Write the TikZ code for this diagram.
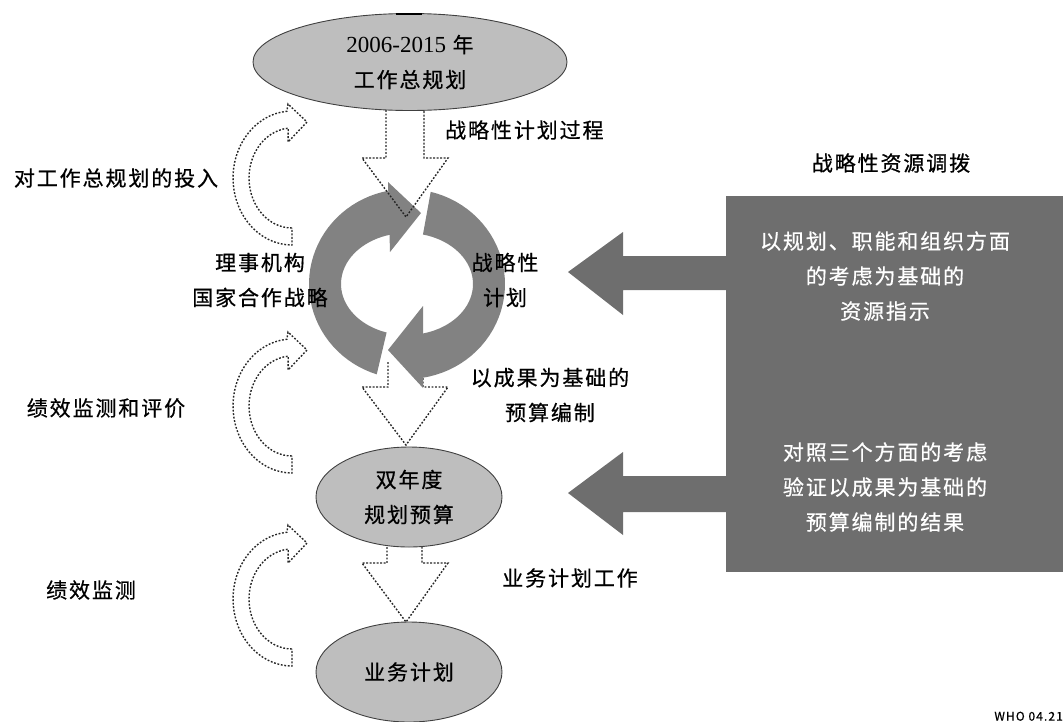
\documentclass[tikz,border=0pt]{standalone}
\usepackage{fontspec}
\setmainfont{Noto Sans CJK SC}[LetterSpace=9, FakeBold=0.6]
\newfontfamily\numfont{Liberation Serif}
\usetikzlibrary{shapes.geometric, positioning, calc}
\definecolor{ellgray}{HTML}{BEBEBE}
\definecolor{ringgray}{HTML}{828282}
\definecolor{boxgray}{HTML}{6E6E6E}
\definecolor{dotgray}{HTML}{262626}
\newcommand{\cnfont}{\fontsize{21}{35}\selectfont}

\tikzset{
  stage/.style={ellipse, draw=black!75, line width=0.9pt, fill=ellgray, inner sep=0pt, align=center, font=\cnfont},
  lbl/.style={align=center, font=\cnfont, inner sep=0pt},
  boxtext/.style={lbl, text=white},
  dotarrow/.style={draw=dotgray, line width=1.4pt, dash pattern=on 1.8pt off 1.7pt},
}

\begin{document}
\begin{tikzpicture}[x=1pt, y=-1pt]
  \useasboundingbox (0,0) rectangle (1063,721);

  % Stages
  \node[stage, minimum width=314pt, minimum height=97pt] (plan) at (410,62) {{\fontsize{23}{35}\selectfont\numfont 2006-2015} 年\\工作总规划};
  \draw[black, line width=2pt] (396,14) -- (422,14);
  \node[stage, minimum width=186pt, minimum height=100pt] (budget) at (409,497) {双年度\\规划预算};
  \node[stage, minimum width=186pt, minimum height=100pt] (ops) at (409,672) {业务计划};

  % Dotted arrow under the cycle
  \draw[dotarrow] (388,362) -- (388,387) -- (362,387) -- (406,445) -- (448,387) -- (423,387) -- (423,362);

  % Planning cycle (two gray arrows)
  \fill[ringgray] plot[domain=252:101, samples=40] ({407+98*cos(\x)},{284-95*sin(\x)})
    -- plot[domain=101:252, samples=40] ({407+66*cos(\x)},{284-51*sin(\x)}) -- cycle;
  \fill[ringgray] (388,182) -- (421,213) -- (390,252) -- cycle;
  \fill[ringgray] plot[domain=76:-81, samples=40] ({407+98*cos(\x)},{284-95*sin(\x)})
    -- plot[domain=-81:76, samples=40] ({407+66*cos(\x)},{284-51*sin(\x)}) -- cycle;
  \fill[ringgray] (423,388) -- (388,350) -- (423,306) -- cycle;

  % Dotted down arrows
  \draw[dotarrow] (386,110) -- (386,158) -- (362,158) -- (406,217) -- (448,158) -- (424,158) -- (424,110);
  \draw[dotarrow] (387,547) -- (387,563) -- (362,563) -- (406,622) -- (448,563) -- (422,563) -- (422,547);

  % Feedback loops on the left
  \foreach \dy in {0,228,421} {
    \begin{scope}[shift={(0,\dy)}]
      \draw[dotarrow] plot[domain=270:95, samples=30] ({292+43*cos(\x)},{178-50*sin(\x)})
        -- (288,142) -- (307,122) -- (288,104)
        -- plot[domain=95:270, samples=30] ({292+59*cos(\x)},{178-67*sin(\x)}) -- cycle;
    \end{scope}
  }

  % Resource allocation box and arrows
  \node[fill=boxgray, inner sep=0pt, minimum width=337pt, minimum height=376pt, anchor=north west] (res) at (726,196) {};
  \fill[boxgray] (727,256) -- (623,256) -- (623,232) -- (568,272) -- (623,315) -- (623,290) -- (727,290) -- cycle;
  \fill[boxgray] (727,476) -- (623,476) -- (623,452) -- (568,493) -- (623,535) -- (623,512) -- (727,512) -- cycle;
  \node[boxtext] (resA) at (885,276) {以规划、职能和组织方面\\的考虑为基础的\\资源指示};
  \node[boxtext] (resB) at (885,487) {对照三个方面的考虑\\验证以成果为基础的\\预算编制的结果};

  % Labels
  \node[lbl, anchor=west] (spp) at (445,130) {战略性计划过程};
  \node[lbl] (sra) at (891,163) {战略性资源调拨};
  \node[lbl] (input) at (116,178) {对工作总规划的投入};
  \node[lbl] (gov) at (260,280) {理事机构\\国家合作战略};
  \node[lbl] (strat) at (505,280) {战略性\\计划};
  \node[lbl] (rbb) at (550,395) {以成果为基础的\\预算编制};
  \node[lbl] (pme) at (106,408) {绩效监测和评价};
  \node[lbl] (opw) at (570,578) {业务计划工作};
  \node[lbl] (pm) at (91,590) {绩效监测};
  \node[font=\fontsize{12}{12}\selectfont, anchor=south east, inner sep=0pt] (who) at (1063,721) {WHO 04.21};
\end{tikzpicture}
\end{document}
